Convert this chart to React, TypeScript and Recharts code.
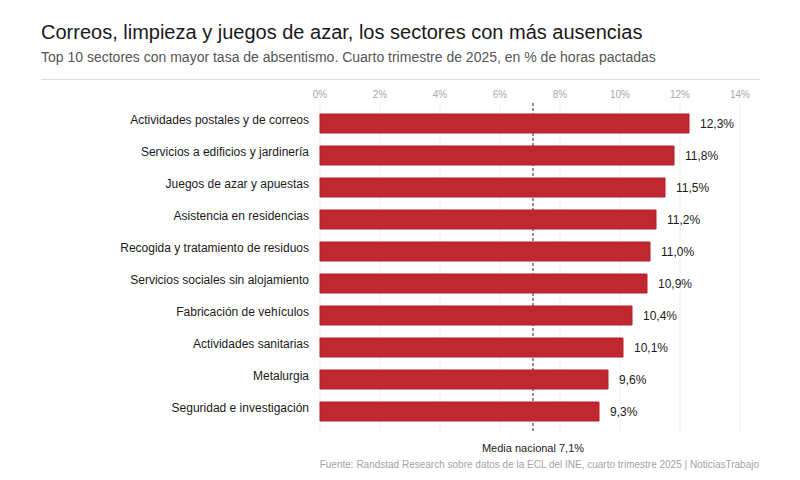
import React from "react";
import {
  BarChart,
  Bar,
  XAxis,
  YAxis,
  CartesianGrid,
  ReferenceLine,
  LabelList,
} from "recharts";

const sectors = [
  "Actividades postales y de correos",
  "Servicios a edificios y jardinería",
  "Juegos de azar y apuestas",
  "Asistencia en residencias",
  "Recogida y tratamiento de residuos",
  "Servicios sociales sin alojamiento",
  "Fabricación de vehículos",
  "Actividades sanitarias",
  "Metalurgia",
  "Seguridad e investigación",
];
const rates = [12.3, 11.8, 11.5, 11.2, 11.0, 10.9, 10.4, 10.1, 9.6, 9.3];
const xTicks = [0, 2, 4, 6, 8, 10, 12, 14];
const nationalAverage = 7.1;

const rows = sectors.map((sector, i) => ({ sector, rate: rates[i] }));
const font = "'Liberation Sans', Arial, sans-serif";

const AverageLabel = ({ viewBox }: any) => (
  <text
    x={viewBox.x}
    y={viewBox.y + viewBox.height + 21}
    textAnchor="middle"
    fontSize={11}
    fill="#222"
    fontFamily={font}
  >
    Media nacional 7,1%
  </text>
);

const App = () => {
  return (
    <div
      style={{
        position: "absolute",
        left: 0,
        top: 0,
        width: 800,
        height: 480,
        background: "#fff",
        overflow: "hidden",
        fontFamily: font,
      }}
    >
      <BarChart
        width={800}
        height={480}
        layout="vertical"
        data={rows}
        margin={{ top: 83, right: 60, bottom: 49, left: 10 }}
        barSize={19}
      >
        <CartesianGrid horizontal={false} stroke="#efefef" />
        <XAxis
          type="number"
          orientation="top"
          domain={[0, 14]}
          ticks={xTicks}
          height={20}
          axisLine={false}
          tickLine={false}
          tickMargin={0}
          tickFormatter={(v) => `${v}%`}
          tick={{ fontSize: 10, fill: "#a8a8a8", fontFamily: font, dy: 1 }}
        />
        <YAxis
          type="category"
          dataKey="sector"
          width={310}
          axisLine={false}
          tickLine={false}
          tickMargin={5}
          interval={0}
          padding={{ top: 4, bottom: 4 }}
          tick={{ fontSize: 12, fill: "#1a1a1a", fontFamily: font, dy: -3 }}
        />
        <ReferenceLine
          x={nationalAverage}
          stroke="#222"
          strokeDasharray="3 2"
          strokeWidth={1}
          zIndex={100}
          label={<AverageLabel />}
        />
        <Bar
          dataKey="rate"
          fill="#c1272f"
          stroke="#b32029"
          strokeWidth={1}
          isAnimationActive={false}
        >
          <LabelList
            dataKey="rate"
            position="right"
            offset={11}
            fontSize={12}
            fill="#1a1a1a"
            fontFamily={font}
            formatter={(v: any) => `${v.toFixed(1).replace(".", ",")}%`}
          />
        </Bar>
      </BarChart>
      <div
        style={{
          position: "absolute",
          left: 41,
          top: 21,
          fontSize: 20,
          color: "#1a1a1a",
          whiteSpace: "nowrap",
        }}
      >
        Correos, limpieza y juegos de azar, los sectores con más ausencias
      </div>
      <div
        style={{
          position: "absolute",
          left: 41,
          top: 49,
          fontSize: 14,
          color: "#555",
          whiteSpace: "nowrap",
        }}
      >
        Top 10 sectores con mayor tasa de absentismo. Cuarto trimestre de 2025, en % de horas pactadas
      </div>
      <div
        style={{
          position: "absolute",
          left: 41,
          top: 79,
          width: 719,
          height: 1,
          background: "#dcdcdc",
        }}
      />
      <div
        style={{
          position: "absolute",
          right: 41,
          top: 459,
          fontSize: 10,
          color: "#a3a3a3",
          whiteSpace: "nowrap",
        }}
      >
        Fuente: Randstad Research sobre datos de la ECL del INE, cuarto trimestre 2025 | NoticiasTrabajo
      </div>
    </div>
  );
};

export default App;
